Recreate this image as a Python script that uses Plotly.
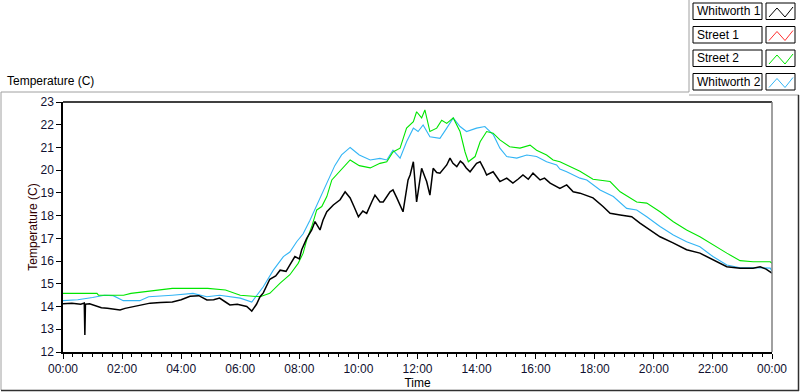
import plotly.graph_objects as go

# ---- data (hours since midnight, temperature in C) ----
w1_t = [0.00, 0.30, 0.60, 0.72, 0.74, 0.76, 0.90, 1.10, 1.30, 1.50, 1.70, 1.93, 2.10, 2.37, 2.60, 2.95,
        3.30, 3.70, 4.00, 4.30, 4.60, 4.87, 5.10, 5.30, 5.50, 5.65, 5.90, 6.22, 6.39, 6.55, 6.67, 6.78,
        7.00, 7.20, 7.35, 7.55, 7.68, 7.85, 8.00, 8.08, 8.25, 8.42, 8.53, 8.70, 8.80, 8.93, 9.15, 9.38,
        9.55, 9.72, 9.85, 10.00, 10.15, 10.28, 10.45, 10.56, 10.73, 10.84, 11.07, 11.17, 11.30, 11.40,
        11.51, 11.68, 11.75, 11.86, 11.97, 12.05, 12.14, 12.25, 12.31, 12.42, 12.53, 12.65, 12.76, 12.99,
        13.10, 13.20, 13.33, 13.45, 13.54, 13.65, 13.78, 14.00, 14.12, 14.25, 14.34, 14.56, 14.70, 14.79,
        15.02, 15.23, 15.40, 15.57, 15.75, 15.91, 16.15, 16.30, 16.49, 16.82, 17.05, 17.27, 17.50, 17.94,
        18.28, 18.52, 18.86, 19.25, 19.53, 19.87, 20.21, 20.65, 21.11, 21.56, 22.00, 22.47, 22.92, 23.36,
        23.60, 23.80, 24.00]
w1_v = [14.12, 14.15, 14.10, 14.15, 12.75, 14.10, 14.12, 14.05, 13.95, 13.92, 13.88, 13.85, 13.92, 14.00, 14.05, 14.15,
        14.18, 14.20, 14.30, 14.45, 14.48, 14.29, 14.30, 14.37, 14.20, 14.07, 14.10, 14.00, 13.80, 14.10, 14.43, 14.60,
        15.20, 15.35, 15.60, 15.55, 15.83, 16.20, 16.10, 16.50, 17.00, 17.37, 17.74, 17.37, 17.80, 18.17, 18.47, 18.70,
        19.05, 18.78, 18.40, 17.95, 18.20, 18.10, 18.60, 18.90, 18.60, 18.60, 19.05, 19.13, 18.78, 18.47,
        18.17, 19.57, 19.79, 20.37, 18.60, 19.30, 20.08, 19.70, 19.50, 18.90, 20.08, 19.90, 19.87, 20.23,
        20.53, 20.30, 20.16, 20.40, 20.30, 20.10, 19.93, 20.30, 20.37, 20.05, 19.79, 19.93, 19.70, 19.50,
        19.65, 19.43, 19.60, 19.79, 19.60, 19.87, 19.57, 19.65, 19.43, 19.20, 19.35, 19.05, 18.99, 18.78,
        18.40, 18.10, 18.03, 17.95, 17.67, 17.37, 17.07, 16.80, 16.50, 16.35, 16.05, 15.75, 15.69, 15.69,
        15.75, 15.65, 15.47]

s2_t = [0.00, 1.15, 1.20, 2.05, 2.30, 3.00, 3.70, 4.90, 5.50, 6.00, 6.67, 7.00, 7.35, 7.68, 7.96, 8.13,
        8.25, 8.42, 8.59, 8.76, 8.93, 9.10, 9.40, 9.72, 10.03, 10.40, 10.73, 10.96, 11.17, 11.41, 11.63,
        11.86, 11.97, 12.14, 12.25, 12.42, 12.65, 12.82, 12.99, 13.21, 13.44, 13.61, 13.72, 13.95, 14.12,
        14.34, 14.56, 14.79, 15.12, 15.47, 15.81, 16.03, 16.37, 16.59, 16.82, 17.05, 17.50, 17.94, 18.52,
        18.86, 19.42, 19.76, 20.21, 20.66, 21.11, 21.56, 22.00, 22.47, 22.92, 23.36, 23.94, 24.00]
s2_v = [14.58, 14.58, 14.50, 14.50, 14.58, 14.69, 14.80, 14.80, 14.73, 14.50, 14.43, 14.58, 15.03, 15.40, 15.90, 16.35,
        16.93, 17.52, 18.25, 18.40, 18.84, 19.57, 20.00, 20.45, 20.20, 20.10, 20.30, 20.37, 20.80, 20.97, 21.85,
        22.13, 22.57, 22.30, 22.65, 21.70, 21.85, 22.20, 22.06, 22.30, 21.70, 20.80, 20.37, 20.60, 21.25,
        21.70, 21.63, 21.33, 21.03, 20.97, 21.10, 20.88, 20.67, 20.45, 20.37, 20.23, 19.95, 19.60, 19.50,
        19.05, 18.60, 18.55, 18.17, 17.73, 17.37, 17.07, 16.71, 16.35, 16.02, 15.97, 15.97, 15.90]

w2_t = [0.00, 0.50, 1.00, 1.40, 1.70, 1.86, 2.04, 2.60, 2.90, 3.70, 4.20, 4.40, 4.87, 5.30, 6.00, 6.39,
        6.78, 7.12, 7.46, 7.68, 7.91, 8.13, 8.36, 8.59, 8.81, 8.97, 9.20, 9.43, 9.72, 10.03, 10.40, 10.73,
        10.96, 11.17, 11.41, 11.63, 11.86, 12.02, 12.19, 12.42, 12.76, 12.99, 13.21, 13.44, 13.66, 14.00,
        14.28, 14.57, 14.79, 15.02, 15.36, 15.70, 16.03, 16.37, 16.71, 16.82, 17.05, 17.50, 17.73, 18.18,
        18.63, 19.08, 19.42, 19.76, 20.21, 20.66, 21.11, 21.56, 22.00, 22.47, 22.92, 23.36, 23.94, 24.00]
w2_v = [14.26, 14.30, 14.40, 14.50, 14.48, 14.37, 14.26, 14.26, 14.43, 14.50, 14.58, 14.58, 14.43, 14.50, 14.37, 14.20,
        14.87, 15.60, 16.20, 16.40, 16.85, 17.20, 17.80, 18.47, 19.05, 19.57, 20.20, 20.67, 21.00, 20.67, 20.45, 20.52,
        20.45, 20.88, 20.53, 21.25, 21.85, 21.70, 21.99, 21.47, 21.40, 21.85, 22.30, 21.92, 21.70, 21.85,
        21.92, 21.55, 20.97, 20.60, 20.53, 20.67, 20.60, 20.37, 20.23, 20.05, 19.93, 19.65, 19.57, 19.13,
        18.84, 18.32, 18.25, 17.95, 17.52, 17.15, 16.85, 16.63, 16.20, 15.83, 15.71, 15.71, 15.69, 15.55]

series_names = ["Whitworth 1", "Street 1", "Street 2", "Whitworth 2"]
series_colors = ["#000000", "#ff3030", "#00e600", "#33b5f5"]

x_tick_vals = [0, 2, 4, 6, 8, 10, 12, 14, 16, 18, 20, 22, 24]
x_tick_text = ["00:00", "02:00", "04:00", "06:00", "08:00", "10:00", "12:00",
               "14:00", "16:00", "18:00", "20:00", "22:00", "00:00"]
y_tick_vals = [12, 13, 14, 15, 16, 17, 18, 19, 20, 21, 22, 23]

# ---- geometry helpers (pixel -> paper) ----
W, H = 800, 392
L, R, T, B = 63, 772, 102, 352


def px(x):
    return (x - L) / (R - L)


def py(y):
    return (B - y) / (B - T)


FONT = "Liberation Sans"

fig = go.Figure()
fig.add_trace(go.Scatter(x=w2_t, y=w2_v, mode="lines", name=series_names[3],
                         line=dict(color=series_colors[3], width=1.1)))
fig.add_trace(go.Scatter(x=s2_t, y=s2_v, mode="lines", name=series_names[2],
                         line=dict(color=series_colors[2], width=1.1)))
fig.add_trace(go.Scatter(x=w1_t, y=w1_v, mode="lines", name=series_names[0],
                         line=dict(color=series_colors[0], width=1.5)))

shapes = []
annotations = []

# outer panel frame
shapes.append(dict(type="line", xref="paper", yref="paper", x0=px(1), x1=px(689), y0=py(92), y1=py(92),
                   line=dict(color="#a0a0a0", width=1)))
shapes.append(dict(type="line", xref="paper", yref="paper", x0=px(1), x1=px(1), y0=py(92), y1=py(390),
                   line=dict(color="#a0a0a0", width=1)))
shapes.append(dict(type="line", xref="paper", yref="paper", x0=px(689), x1=px(689), y0=py(0), y1=py(92),
                   line=dict(color="#a0a0a0", width=1)))
shapes.append(dict(type="line", xref="paper", yref="paper", x0=px(689), x1=px(799), y0=py(95), y1=py(95),
                   line=dict(color="#a0a0a0", width=1)))
shapes.append(dict(type="line", xref="paper", yref="paper", x0=px(1), x1=px(799), y0=py(390.5), y1=py(390.5),
                   line=dict(color="#303030", width=1.5)))
shapes.append(dict(type="line", xref="paper", yref="paper", x0=px(798.5), x1=px(798.5), y0=py(95), y1=py(391),
                   line=dict(color="#303030", width=1.5)))
# plot frame: top black, right gray
shapes.append(dict(type="line", xref="paper", yref="paper", x0=0, x1=1, y0=1, y1=1,
                   line=dict(color="#000000", width=1.5)))
shapes.append(dict(type="line", xref="paper", yref="paper", x0=1, x1=1, y0=0, y1=1,
                   line=dict(color="#808080", width=1.5)))

# legend (LabVIEW style)
row_tops = [3, 26.5, 50, 73.5]
for i, name in enumerate(series_names):
    t0 = row_tops[i]
    t1 = t0 + 16.5
    shapes.append(dict(type="rect", xref="paper", yref="paper", x0=px(693), x1=px(762), y0=py(t1), y1=py(t0),
                       line=dict(color="#000000", width=1), fillcolor="white"))
    shapes.append(dict(type="rect", xref="paper", yref="paper", x0=px(766), x1=px(795), y0=py(t1), y1=py(t0),
                       line=dict(color="#000000", width=1), fillcolor="white"))
    pts = [(769, t0 + 14), (777, t0 + 5), (785, t0 + 14), (793, t0 + 4)]
    path = "M " + " L ".join(f"{px(a):.5f},{py(b):.5f}" for a, b in pts)
    shapes.append(dict(type="path", xref="paper", yref="paper", path=path,
                       line=dict(color=series_colors[i], width=1)))
    annotations.append(dict(xref="paper", yref="paper", x=px(695), y=py((t0 + t1) / 2), text=name,
                            showarrow=False, xanchor="left", yanchor="middle",
                            font=dict(family=FONT, size=12, color="#000000")))

annotations.append(dict(xref="paper", yref="paper", x=px(5), y=py(81), text="Temperature (C)",
                        showarrow=False, xanchor="left", yanchor="middle",
                        font=dict(family=FONT, size=12, color="#000000")))

fig.update_layout(
    width=W, height=H, autosize=False,
    margin=dict(l=L, r=W - R, t=T, b=H - B, pad=0, autoexpand=False),
    paper_bgcolor="white", plot_bgcolor="white",
    showlegend=False,
    shapes=shapes, annotations=annotations,
    font=dict(family=FONT, size=12, color="#000000"),
)
fig.update_xaxes(
    range=[0, 24], tickmode="array", tickvals=x_tick_vals, ticktext=x_tick_text,
    automargin=False,
    showgrid=False, zeroline=False, showline=True, linecolor="#000000", linewidth=1.5,
    ticks="outside", ticklen=5, tickcolor="#000000", tickwidth=1,
    minor=dict(dtick=1 / 3, ticks="outside", ticklen=3, tickcolor="#000000", tickwidth=1, showgrid=False),
    tickfont=dict(family=FONT, size=12, color="#101030"),
    title=dict(text="Time", standoff=2, font=dict(family=FONT, size=12, color="#000000")),
)
fig.update_yaxes(
    range=[12, 23], tickmode="array", tickvals=y_tick_vals,
    automargin=False,
    showgrid=False, zeroline=False, showline=True, linecolor="#000000", linewidth=1.5,
    ticks="outside", ticklen=5, tickcolor="#000000", tickwidth=1,
    tickfont=dict(family=FONT, size=12, color="#101030"),
    title=dict(text="Temperature (C)", standoff=0, font=dict(family=FONT, size=12, color="#300000")),
)

fig.write_html("out.html", config={"displayModeBar": False},
               post_script="document.body.style.margin='0px';document.body.style.overflow='hidden';")
